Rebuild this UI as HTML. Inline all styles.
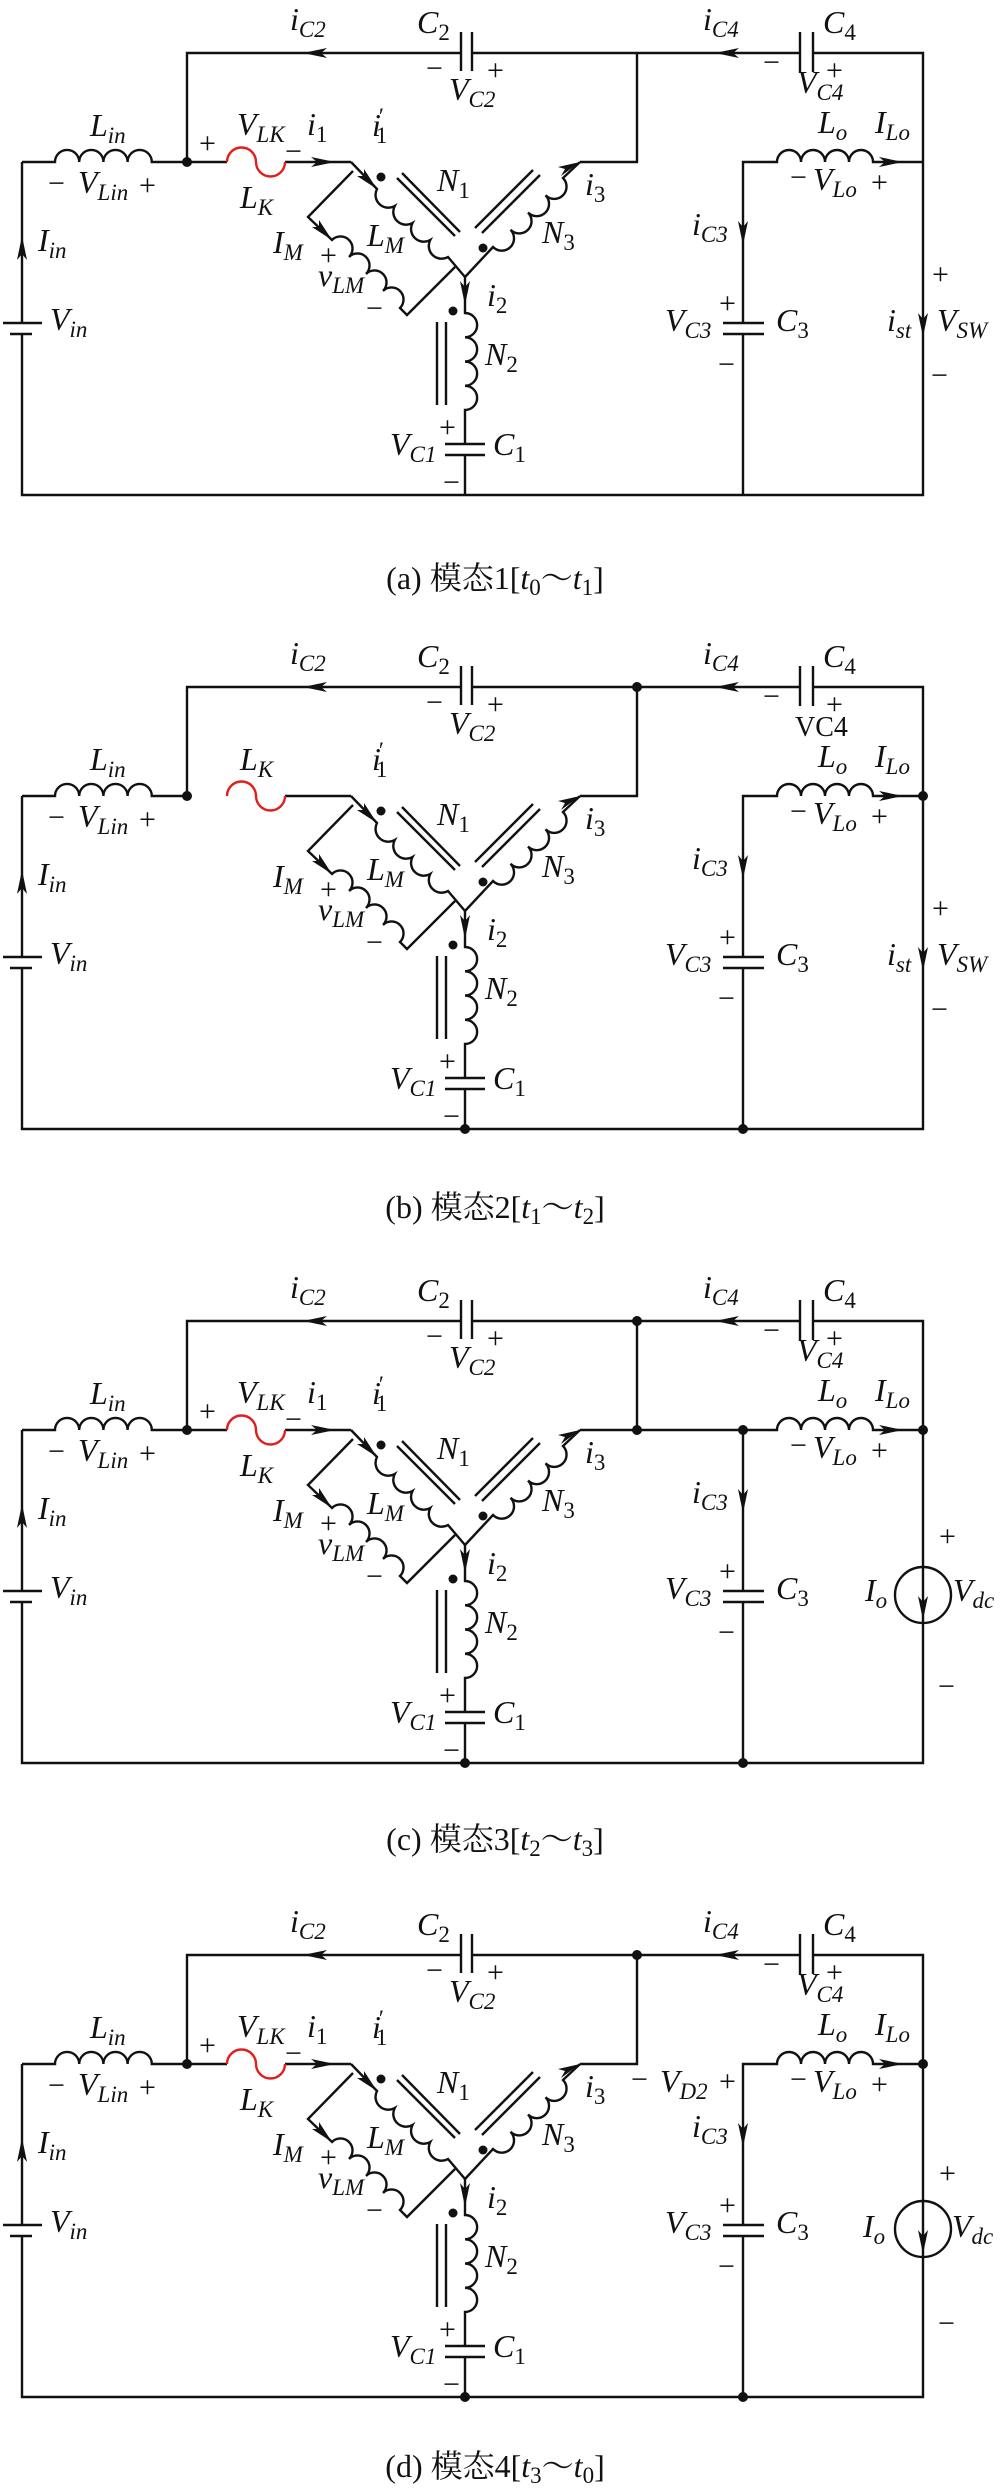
<!DOCTYPE html>
<html><head><meta charset="utf-8"><style>
html,body{margin:0;padding:0;background:#fff}
svg{display:block;font-family:"Liberation Serif","Noto Serif CJK SC",serif}
.w{fill:none;stroke:#111;stroke-width:2.4}
.r{fill:none;stroke:#e0201c;stroke-width:2.4}
.a{fill:#111;stroke:none}
text{font-family:"Liberation Serif","Noto Serif CJK SC",serif;fill:#111}
.l{font-style:italic;font-size:32px}
.s{font-size:23px}
.u{font-style:normal}
.p{font-size:30px;font-style:normal}
.cap{font-size:32px}
</style></head><body>
<svg width="1000" height="2491" viewBox="0 0 1000 2491" xmlns="http://www.w3.org/2000/svg" font-family="Liberation Serif, serif">

<g id="pa">
<path class="w" d="M22 162 H55 a12.1 12.1 0 0 1 24.2 0 a12.1 12.1 0 0 1 24.2 0 a12.1 12.1 0 0 1 24.2 0 a12.1 12.1 0 0 1 24.2 0 H187"/>
<path class="w" d="M22 162 V323 M3 323 H42 M10 334 H32 M22 334 V495 H923 V53 H813 M800 53 H472 M461 53 H187 V162"/>
<path class="w" d="M800 32 V72 M813 32 V72 M461 32 V71 M472 32 V71"/>
<path class="w" d="M637 53 V162 H580"/>
<path class="w" d="M580 162 L563 178 a11.76 11.76 0 0 1 -17.5 17.25 a11.76 11.76 0 0 1 -17.5 17.25 a11.76 11.76 0 0 1 -17.5 17.25 a11.76 11.76 0 0 1 -17.5 17.25 L465 277"/>
<path class="w" d="M351 162 L377 189 a12.8 12.8 0 0 0 17.75 17 a12.8 12.8 0 0 0 17.75 17 a12.8 12.8 0 0 0 17.75 17 a12.8 12.8 0 0 0 17.75 17 L465 277"/>
<path class="w" d="M353 171 L308 217 L332 240 a12.02 12.02 0 0 1 17 17 a12.02 12.02 0 0 1 17 17 a12.02 12.02 0 0 1 17 17 a12.02 12.02 0 0 1 17 17 L407 315 L455 267"/>
<path class="w" d="M465 277 V313 a12.1 12.1 0 0 1 0 24.25 a12.1 12.1 0 0 1 0 24.25 a12.1 12.1 0 0 1 0 24.25 a12.1 12.1 0 0 1 0 24.25 V444 M445 444 H485 M445 455 H485 M465 455 V495"/>
<path class="w" d="M402 173 L460 232 M397 178 L455 236 M533 170 L475 228 M540 175 L482 233 M437 322 V405 M446 322 V405"/>
<path class="w" d="M743 495 V334 M723 334 H764 M723 323 H764 M743 323 V162 H777 a12 12 0 0 1 24 0 a12 12 0 0 1 24 0 a12 12 0 0 1 24 0 a12 12 0 0 1 24 0 H923"/>
<circle class="a" cx="381" cy="177" r="4.5"/><circle class="a" cx="483" cy="248" r="4.5"/><circle class="a" cx="453" cy="311" r="4.5"/>
<polygon class="a" points="303,53 327,48 321,53 327,58"/>
<polygon class="a" points="715,53 739,48 733,53 739,58"/>
<polygon class="a" points="22,236 17,260 22,254 27,260"/>
<polygon class="a" points="377,189 357,176 364,176 364,169"/>
<polygon class="a" points="332,240 312,227 319,227 319,220"/>
<polygon class="a" points="580,162 561,176 565,169 558,167"/>
<polygon class="a" points="465,305 460,281 465,287 470,281"/>
<polygon class="a" points="743,245 738,221 743,227 748,221"/>
<polygon class="a" points="903,162 879,157 885,162 879,167"/>
<text class="l" x="290" y="30">i<tspan class="s" dy="7">C2</tspan></text>
<text class="l" x="417" y="33">C<tspan class="s u" dy="7">2</tspan></text>
<text class="p" x="426" y="78">−</text><text class="p" x="487" y="80">+</text>
<text class="l" x="449" y="100">V<tspan class="s" dy="7">C2</tspan></text>
<text class="l" x="703" y="30">i<tspan class="s" dy="7">C4</tspan></text>
<text class="l" x="823" y="33">C<tspan class="s u" dy="7">4</tspan></text>
<text class="p" x="763" y="72">−</text><text class="p" x="826" y="80">+</text>
<text class="l" x="90" y="136">L<tspan class="s" dy="7">in</tspan></text>
<text class="p" x="48" y="193">−</text><text class="l" x="78" y="193">V<tspan class="s" dy="7">Lin</tspan></text><text class="p" x="139" y="195">+</text>
<text class="l" x="38" y="251">I<tspan class="s" dy="7">in</tspan></text>
<text class="l" x="50" y="330">V<tspan class="s" dy="7">in</tspan></text>
<text class="l" x="372" y="136">i<tspan class="s u" dx="-2" dy="-12">′</tspan><tspan class="s u" dx="-8" dy="19">1</tspan></text>
<text class="l" x="437" y="191">N<tspan class="s u" dy="7">1</tspan></text>
<text class="l" x="585" y="195">i<tspan class="s u" dy="7">3</tspan></text>
<text class="l" x="542" y="243">N<tspan class="s u" dy="7">3</tspan></text>
<text class="l" x="273" y="253">I<tspan class="s" dy="7">M</tspan></text><text class="p" x="320" y="265">+</text>
<text class="l" x="367" y="246">L<tspan class="s" dy="7">M</tspan></text>
<text class="l" x="318" y="286">v<tspan class="s" dy="7">LM</tspan></text><text class="p" x="366" y="318">−</text>
<text class="l" x="487" y="306">i<tspan class="s u" dy="7">2</tspan></text>
<text class="l" x="485" y="365">N<tspan class="s u" dy="7">2</tspan></text>
<text class="p" x="439" y="437">+</text>
<text class="l" x="390" y="455">V<tspan class="s" dy="7">C1</tspan></text>
<text class="l" x="493" y="455">C<tspan class="s u" dy="7">1</tspan></text>
<text class="p" x="443" y="492">−</text>
<text class="l" x="818" y="133">L<tspan class="s" dy="7">o</tspan></text>
<text class="l" x="875" y="133">I<tspan class="s" dy="7">Lo</tspan></text>
<text class="p" x="790" y="187">−</text><text class="l" x="813" y="190">V<tspan class="s" dy="7">Lo</tspan></text><text class="p" x="871" y="192">+</text>
<text class="l" x="692" y="235">i<tspan class="s" dy="7">C3</tspan></text>
<text class="p" x="719" y="313">+</text>
<text class="l" x="665" y="331">V<tspan class="s" dy="7">C3</tspan></text>
<text class="l" x="776" y="331">C<tspan class="s u" dy="7">3</tspan></text>
<text class="p" x="718" y="374">−</text>
</g>

<g>
<text class="l" x="797" y="93">V<tspan class="s" dy="7">C4</tspan></text>
<path class="w" d="M187 162 H227 M285 162 H351"/>
<path class="r" d="M227 162 a14.5 14.5 0 0 1 29 0 a14.5 14.5 0 0 0 29 0"/>
<polygon class="a" points="335,162 311,157 317,162 311,167"/>
<circle class="a" cx="187" cy="162" r="5"/>
<text class="p" x="199" y="153">+</text>
<text class="l" x="237" y="135">V<tspan class="s" dy="7">LK</tspan></text>
<text class="p" x="285" y="161">−</text>
<text class="l" x="307" y="135">i<tspan class="s u" dy="7">1</tspan></text>
<text class="l" x="240" y="208">L<tspan class="s" dy="7">K</tspan></text>
<polygon class="a" points="923,337 918,313 923,319 928,313"/>
<text class="p" x="932" y="284">+</text><text class="p" x="931" y="385">−</text>
<text class="l" x="887" y="331">i<tspan class="s" dy="7">st</tspan></text>
<text class="l" x="937" y="331">V<tspan class="s" dy="7">SW</tspan></text>
<text class="cap" x="495" y="589" text-anchor="middle">(a) 模态1[<tspan font-style="italic">t</tspan><tspan class="s" dy="6">0</tspan><tspan dy="-6">～</tspan><tspan font-style="italic">t</tspan><tspan class="s" dy="6">1</tspan><tspan dy="-6">]</tspan></text>
</g>

<g transform="translate(0,634)">
<path class="w" d="M22 162 H55 a12.1 12.1 0 0 1 24.2 0 a12.1 12.1 0 0 1 24.2 0 a12.1 12.1 0 0 1 24.2 0 a12.1 12.1 0 0 1 24.2 0 H187"/>
<path class="w" d="M22 162 V323 M3 323 H42 M10 334 H32 M22 334 V495 H923 V53 H813 M800 53 H472 M461 53 H187 V162"/>
<path class="w" d="M800 32 V72 M813 32 V72 M461 32 V71 M472 32 V71"/>
<path class="w" d="M637 53 V162 H580"/>
<path class="w" d="M580 162 L563 178 a11.76 11.76 0 0 1 -17.5 17.25 a11.76 11.76 0 0 1 -17.5 17.25 a11.76 11.76 0 0 1 -17.5 17.25 a11.76 11.76 0 0 1 -17.5 17.25 L465 277"/>
<path class="w" d="M351 162 L377 189 a12.8 12.8 0 0 0 17.75 17 a12.8 12.8 0 0 0 17.75 17 a12.8 12.8 0 0 0 17.75 17 a12.8 12.8 0 0 0 17.75 17 L465 277"/>
<path class="w" d="M353 171 L308 217 L332 240 a12.02 12.02 0 0 1 17 17 a12.02 12.02 0 0 1 17 17 a12.02 12.02 0 0 1 17 17 a12.02 12.02 0 0 1 17 17 L407 315 L455 267"/>
<path class="w" d="M465 277 V313 a12.1 12.1 0 0 1 0 24.25 a12.1 12.1 0 0 1 0 24.25 a12.1 12.1 0 0 1 0 24.25 a12.1 12.1 0 0 1 0 24.25 V444 M445 444 H485 M445 455 H485 M465 455 V495"/>
<path class="w" d="M402 173 L460 232 M397 178 L455 236 M533 170 L475 228 M540 175 L482 233 M437 322 V405 M446 322 V405"/>
<path class="w" d="M743 495 V334 M723 334 H764 M723 323 H764 M743 323 V162 H777 a12 12 0 0 1 24 0 a12 12 0 0 1 24 0 a12 12 0 0 1 24 0 a12 12 0 0 1 24 0 H923"/>
<circle class="a" cx="381" cy="177" r="4.5"/><circle class="a" cx="483" cy="248" r="4.5"/><circle class="a" cx="453" cy="311" r="4.5"/>
<polygon class="a" points="303,53 327,48 321,53 327,58"/>
<polygon class="a" points="715,53 739,48 733,53 739,58"/>
<polygon class="a" points="22,236 17,260 22,254 27,260"/>
<polygon class="a" points="377,189 357,176 364,176 364,169"/>
<polygon class="a" points="332,240 312,227 319,227 319,220"/>
<polygon class="a" points="580,162 561,176 565,169 558,167"/>
<polygon class="a" points="465,305 460,281 465,287 470,281"/>
<polygon class="a" points="743,245 738,221 743,227 748,221"/>
<polygon class="a" points="903,162 879,157 885,162 879,167"/>
<text class="l" x="290" y="30">i<tspan class="s" dy="7">C2</tspan></text>
<text class="l" x="417" y="33">C<tspan class="s u" dy="7">2</tspan></text>
<text class="p" x="426" y="78">−</text><text class="p" x="487" y="80">+</text>
<text class="l" x="449" y="100">V<tspan class="s" dy="7">C2</tspan></text>
<text class="l" x="703" y="30">i<tspan class="s" dy="7">C4</tspan></text>
<text class="l" x="823" y="33">C<tspan class="s u" dy="7">4</tspan></text>
<text class="p" x="763" y="72">−</text><text class="p" x="826" y="80">+</text>
<text class="l" x="90" y="136">L<tspan class="s" dy="7">in</tspan></text>
<text class="p" x="48" y="193">−</text><text class="l" x="78" y="193">V<tspan class="s" dy="7">Lin</tspan></text><text class="p" x="139" y="195">+</text>
<text class="l" x="38" y="251">I<tspan class="s" dy="7">in</tspan></text>
<text class="l" x="50" y="330">V<tspan class="s" dy="7">in</tspan></text>
<text class="l" x="372" y="136">i<tspan class="s u" dx="-2" dy="-12">′</tspan><tspan class="s u" dx="-8" dy="19">1</tspan></text>
<text class="l" x="437" y="191">N<tspan class="s u" dy="7">1</tspan></text>
<text class="l" x="585" y="195">i<tspan class="s u" dy="7">3</tspan></text>
<text class="l" x="542" y="243">N<tspan class="s u" dy="7">3</tspan></text>
<text class="l" x="273" y="253">I<tspan class="s" dy="7">M</tspan></text><text class="p" x="320" y="265">+</text>
<text class="l" x="367" y="246">L<tspan class="s" dy="7">M</tspan></text>
<text class="l" x="318" y="286">v<tspan class="s" dy="7">LM</tspan></text><text class="p" x="366" y="318">−</text>
<text class="l" x="487" y="306">i<tspan class="s u" dy="7">2</tspan></text>
<text class="l" x="485" y="365">N<tspan class="s u" dy="7">2</tspan></text>
<text class="p" x="439" y="437">+</text>
<text class="l" x="390" y="455">V<tspan class="s" dy="7">C1</tspan></text>
<text class="l" x="493" y="455">C<tspan class="s u" dy="7">1</tspan></text>
<text class="p" x="443" y="492">−</text>
<text class="l" x="818" y="133">L<tspan class="s" dy="7">o</tspan></text>
<text class="l" x="875" y="133">I<tspan class="s" dy="7">Lo</tspan></text>
<text class="p" x="790" y="187">−</text><text class="l" x="813" y="190">V<tspan class="s" dy="7">Lo</tspan></text><text class="p" x="871" y="192">+</text>
<text class="l" x="692" y="235">i<tspan class="s" dy="7">C3</tspan></text>
<text class="p" x="719" y="313">+</text>
<text class="l" x="665" y="331">V<tspan class="s" dy="7">C3</tspan></text>
<text class="l" x="776" y="331">C<tspan class="s u" dy="7">3</tspan></text>
<text class="p" x="718" y="374">−</text>
<text x="795" y="102" style="font-size:28px">VC4</text>
<path class="w" d="M285 162 H351"/>
<path class="r" d="M227 162 a14.5 14.5 0 0 1 29 0 a14.5 14.5 0 0 0 29 0"/>
<circle class="a" cx="187" cy="162" r="5"/><circle class="a" cx="637" cy="53" r="5"/><circle class="a" cx="923" cy="162" r="5"/>
<circle class="a" cx="465" cy="495" r="5"/><circle class="a" cx="743" cy="495" r="5"/>
<text class="l" x="240" y="136">L<tspan class="s" dy="7">K</tspan></text>
<polygon class="a" points="923,337 918,313 923,319 928,313"/>
<text class="p" x="932" y="284">+</text><text class="p" x="931" y="385">−</text>
<text class="l" x="887" y="331">i<tspan class="s" dy="7">st</tspan></text>
<text class="l" x="937" y="331">V<tspan class="s" dy="7">SW</tspan></text>
<text class="cap" x="495" y="584" text-anchor="middle">(b) 模态2[<tspan font-style="italic">t</tspan><tspan class="s" dy="6">1</tspan><tspan dy="-6">～</tspan><tspan font-style="italic">t</tspan><tspan class="s" dy="6">2</tspan><tspan dy="-6">]</tspan></text>
</g>

<g transform="translate(0,1268)">
<path class="w" d="M22 162 H55 a12.1 12.1 0 0 1 24.2 0 a12.1 12.1 0 0 1 24.2 0 a12.1 12.1 0 0 1 24.2 0 a12.1 12.1 0 0 1 24.2 0 H187"/>
<path class="w" d="M22 162 V323 M3 323 H42 M10 334 H32 M22 334 V495 H923 V53 H813 M800 53 H472 M461 53 H187 V162"/>
<path class="w" d="M800 32 V72 M813 32 V72 M461 32 V71 M472 32 V71"/>
<path class="w" d="M637 53 V162 H580 M637 162 H743"/>
<path class="w" d="M580 162 L563 178 a11.76 11.76 0 0 1 -17.5 17.25 a11.76 11.76 0 0 1 -17.5 17.25 a11.76 11.76 0 0 1 -17.5 17.25 a11.76 11.76 0 0 1 -17.5 17.25 L465 277"/>
<path class="w" d="M351 162 L377 189 a12.8 12.8 0 0 0 17.75 17 a12.8 12.8 0 0 0 17.75 17 a12.8 12.8 0 0 0 17.75 17 a12.8 12.8 0 0 0 17.75 17 L465 277"/>
<path class="w" d="M353 171 L308 217 L332 240 a12.02 12.02 0 0 1 17 17 a12.02 12.02 0 0 1 17 17 a12.02 12.02 0 0 1 17 17 a12.02 12.02 0 0 1 17 17 L407 315 L455 267"/>
<path class="w" d="M465 277 V313 a12.1 12.1 0 0 1 0 24.25 a12.1 12.1 0 0 1 0 24.25 a12.1 12.1 0 0 1 0 24.25 a12.1 12.1 0 0 1 0 24.25 V444 M445 444 H485 M445 455 H485 M465 455 V495"/>
<path class="w" d="M402 173 L460 232 M397 178 L455 236 M533 170 L475 228 M540 175 L482 233 M437 322 V405 M446 322 V405"/>
<path class="w" d="M743 495 V334 M723 334 H764 M723 323 H764 M743 323 V162 H777 a12 12 0 0 1 24 0 a12 12 0 0 1 24 0 a12 12 0 0 1 24 0 a12 12 0 0 1 24 0 H923"/>
<circle class="a" cx="381" cy="177" r="4.5"/><circle class="a" cx="483" cy="248" r="4.5"/><circle class="a" cx="453" cy="311" r="4.5"/>
<polygon class="a" points="303,53 327,48 321,53 327,58"/>
<polygon class="a" points="715,53 739,48 733,53 739,58"/>
<polygon class="a" points="22,236 17,260 22,254 27,260"/>
<polygon class="a" points="377,189 357,176 364,176 364,169"/>
<polygon class="a" points="332,240 312,227 319,227 319,220"/>
<polygon class="a" points="580,162 561,176 565,169 558,167"/>
<polygon class="a" points="465,305 460,281 465,287 470,281"/>
<polygon class="a" points="743,245 738,221 743,227 748,221"/>
<polygon class="a" points="903,162 879,157 885,162 879,167"/>
<text class="l" x="290" y="30">i<tspan class="s" dy="7">C2</tspan></text>
<text class="l" x="417" y="33">C<tspan class="s u" dy="7">2</tspan></text>
<text class="p" x="426" y="78">−</text><text class="p" x="487" y="80">+</text>
<text class="l" x="449" y="100">V<tspan class="s" dy="7">C2</tspan></text>
<text class="l" x="703" y="30">i<tspan class="s" dy="7">C4</tspan></text>
<text class="l" x="823" y="33">C<tspan class="s u" dy="7">4</tspan></text>
<text class="p" x="763" y="72">−</text><text class="p" x="826" y="80">+</text>
<text class="l" x="90" y="136">L<tspan class="s" dy="7">in</tspan></text>
<text class="p" x="48" y="193">−</text><text class="l" x="78" y="193">V<tspan class="s" dy="7">Lin</tspan></text><text class="p" x="139" y="195">+</text>
<text class="l" x="38" y="251">I<tspan class="s" dy="7">in</tspan></text>
<text class="l" x="50" y="330">V<tspan class="s" dy="7">in</tspan></text>
<text class="l" x="372" y="136">i<tspan class="s u" dx="-2" dy="-12">′</tspan><tspan class="s u" dx="-8" dy="19">1</tspan></text>
<text class="l" x="437" y="191">N<tspan class="s u" dy="7">1</tspan></text>
<text class="l" x="585" y="195">i<tspan class="s u" dy="7">3</tspan></text>
<text class="l" x="542" y="243">N<tspan class="s u" dy="7">3</tspan></text>
<text class="l" x="273" y="253">I<tspan class="s" dy="7">M</tspan></text><text class="p" x="320" y="265">+</text>
<text class="l" x="367" y="246">L<tspan class="s" dy="7">M</tspan></text>
<text class="l" x="318" y="286">v<tspan class="s" dy="7">LM</tspan></text><text class="p" x="366" y="318">−</text>
<text class="l" x="487" y="306">i<tspan class="s u" dy="7">2</tspan></text>
<text class="l" x="485" y="365">N<tspan class="s u" dy="7">2</tspan></text>
<text class="p" x="439" y="437">+</text>
<text class="l" x="390" y="455">V<tspan class="s" dy="7">C1</tspan></text>
<text class="l" x="493" y="455">C<tspan class="s u" dy="7">1</tspan></text>
<text class="p" x="443" y="492">−</text>
<text class="l" x="818" y="133">L<tspan class="s" dy="7">o</tspan></text>
<text class="l" x="875" y="133">I<tspan class="s" dy="7">Lo</tspan></text>
<text class="p" x="790" y="187">−</text><text class="l" x="813" y="190">V<tspan class="s" dy="7">Lo</tspan></text><text class="p" x="871" y="192">+</text>
<text class="l" x="692" y="235">i<tspan class="s" dy="7">C3</tspan></text>
<text class="p" x="719" y="313">+</text>
<text class="l" x="665" y="331">V<tspan class="s" dy="7">C3</tspan></text>
<text class="l" x="776" y="331">C<tspan class="s u" dy="7">3</tspan></text>
<text class="p" x="718" y="374">−</text>
<text class="l" x="797" y="93">V<tspan class="s" dy="7">C4</tspan></text>
<path class="w" d="M187 162 H227 M285 162 H351"/>
<path class="r" d="M227 162 a14.5 14.5 0 0 1 29 0 a14.5 14.5 0 0 0 29 0"/>
<polygon class="a" points="335,162 311,157 317,162 311,167"/>
<circle class="a" cx="187" cy="162" r="5"/><circle class="a" cx="637" cy="53" r="5"/><circle class="a" cx="637" cy="162" r="5"/>
<circle class="a" cx="743" cy="162" r="5"/><circle class="a" cx="923" cy="162" r="5"/>
<circle class="a" cx="465" cy="495" r="5"/><circle class="a" cx="743" cy="495" r="5"/>
<text class="p" x="199" y="153">+</text>
<text class="l" x="237" y="135">V<tspan class="s" dy="7">LK</tspan></text>
<text class="p" x="285" y="161">−</text>
<text class="l" x="307" y="135">i<tspan class="s u" dy="7">1</tspan></text>
<text class="l" x="240" y="208">L<tspan class="s" dy="7">K</tspan></text>
<circle class="w" cx="923" cy="327" r="28"/>
<polygon class="a" points="923,352 918,328 923,334 928,328"/>
<text class="p" x="939" y="278">+</text><text class="p" x="938" y="428">−</text>
<text class="l" x="865" y="333">I<tspan class="s" dy="7">o</tspan></text>
<text class="l" x="953" y="333">V<tspan class="s" dy="7">dc</tspan></text>
<text class="cap" x="495" y="582" text-anchor="middle">(c) 模态3[<tspan font-style="italic">t</tspan><tspan class="s" dy="6">2</tspan><tspan dy="-6">～</tspan><tspan font-style="italic">t</tspan><tspan class="s" dy="6">3</tspan><tspan dy="-6">]</tspan></text>
</g>

<g transform="translate(0,1902)">
<path class="w" d="M22 162 H55 a12.1 12.1 0 0 1 24.2 0 a12.1 12.1 0 0 1 24.2 0 a12.1 12.1 0 0 1 24.2 0 a12.1 12.1 0 0 1 24.2 0 H187"/>
<path class="w" d="M22 162 V323 M3 323 H42 M10 334 H32 M22 334 V495 H923 V53 H813 M800 53 H472 M461 53 H187 V162"/>
<path class="w" d="M800 32 V72 M813 32 V72 M461 32 V71 M472 32 V71"/>
<path class="w" d="M637 53 V162 H580"/>
<path class="w" d="M580 162 L563 178 a11.76 11.76 0 0 1 -17.5 17.25 a11.76 11.76 0 0 1 -17.5 17.25 a11.76 11.76 0 0 1 -17.5 17.25 a11.76 11.76 0 0 1 -17.5 17.25 L465 277"/>
<path class="w" d="M351 162 L377 189 a12.8 12.8 0 0 0 17.75 17 a12.8 12.8 0 0 0 17.75 17 a12.8 12.8 0 0 0 17.75 17 a12.8 12.8 0 0 0 17.75 17 L465 277"/>
<path class="w" d="M353 171 L308 217 L332 240 a12.02 12.02 0 0 1 17 17 a12.02 12.02 0 0 1 17 17 a12.02 12.02 0 0 1 17 17 a12.02 12.02 0 0 1 17 17 L407 315 L455 267"/>
<path class="w" d="M465 277 V313 a12.1 12.1 0 0 1 0 24.25 a12.1 12.1 0 0 1 0 24.25 a12.1 12.1 0 0 1 0 24.25 a12.1 12.1 0 0 1 0 24.25 V444 M445 444 H485 M445 455 H485 M465 455 V495"/>
<path class="w" d="M402 173 L460 232 M397 178 L455 236 M533 170 L475 228 M540 175 L482 233 M437 322 V405 M446 322 V405"/>
<path class="w" d="M743 495 V334 M723 334 H764 M723 323 H764 M743 323 V162 H777 a12 12 0 0 1 24 0 a12 12 0 0 1 24 0 a12 12 0 0 1 24 0 a12 12 0 0 1 24 0 H923"/>
<circle class="a" cx="381" cy="177" r="4.5"/><circle class="a" cx="483" cy="248" r="4.5"/><circle class="a" cx="453" cy="311" r="4.5"/>
<polygon class="a" points="303,53 327,48 321,53 327,58"/>
<polygon class="a" points="715,53 739,48 733,53 739,58"/>
<polygon class="a" points="22,236 17,260 22,254 27,260"/>
<polygon class="a" points="377,189 357,176 364,176 364,169"/>
<polygon class="a" points="332,240 312,227 319,227 319,220"/>
<polygon class="a" points="580,162 561,176 565,169 558,167"/>
<polygon class="a" points="465,305 460,281 465,287 470,281"/>
<polygon class="a" points="743,245 738,221 743,227 748,221"/>
<polygon class="a" points="903,162 879,157 885,162 879,167"/>
<text class="l" x="290" y="30">i<tspan class="s" dy="7">C2</tspan></text>
<text class="l" x="417" y="33">C<tspan class="s u" dy="7">2</tspan></text>
<text class="p" x="426" y="78">−</text><text class="p" x="487" y="80">+</text>
<text class="l" x="449" y="100">V<tspan class="s" dy="7">C2</tspan></text>
<text class="l" x="703" y="30">i<tspan class="s" dy="7">C4</tspan></text>
<text class="l" x="823" y="33">C<tspan class="s u" dy="7">4</tspan></text>
<text class="p" x="763" y="72">−</text><text class="p" x="826" y="80">+</text>
<text class="l" x="90" y="136">L<tspan class="s" dy="7">in</tspan></text>
<text class="p" x="48" y="193">−</text><text class="l" x="78" y="193">V<tspan class="s" dy="7">Lin</tspan></text><text class="p" x="139" y="195">+</text>
<text class="l" x="38" y="251">I<tspan class="s" dy="7">in</tspan></text>
<text class="l" x="50" y="330">V<tspan class="s" dy="7">in</tspan></text>
<text class="l" x="372" y="136">i<tspan class="s u" dx="-2" dy="-12">′</tspan><tspan class="s u" dx="-8" dy="19">1</tspan></text>
<text class="l" x="437" y="191">N<tspan class="s u" dy="7">1</tspan></text>
<text class="l" x="585" y="195">i<tspan class="s u" dy="7">3</tspan></text>
<text class="l" x="542" y="243">N<tspan class="s u" dy="7">3</tspan></text>
<text class="l" x="273" y="253">I<tspan class="s" dy="7">M</tspan></text><text class="p" x="320" y="265">+</text>
<text class="l" x="367" y="246">L<tspan class="s" dy="7">M</tspan></text>
<text class="l" x="318" y="286">v<tspan class="s" dy="7">LM</tspan></text><text class="p" x="366" y="318">−</text>
<text class="l" x="487" y="306">i<tspan class="s u" dy="7">2</tspan></text>
<text class="l" x="485" y="365">N<tspan class="s u" dy="7">2</tspan></text>
<text class="p" x="439" y="437">+</text>
<text class="l" x="390" y="455">V<tspan class="s" dy="7">C1</tspan></text>
<text class="l" x="493" y="455">C<tspan class="s u" dy="7">1</tspan></text>
<text class="p" x="443" y="492">−</text>
<text class="l" x="818" y="133">L<tspan class="s" dy="7">o</tspan></text>
<text class="l" x="875" y="133">I<tspan class="s" dy="7">Lo</tspan></text>
<text class="p" x="790" y="187">−</text><text class="l" x="813" y="190">V<tspan class="s" dy="7">Lo</tspan></text><text class="p" x="871" y="192">+</text>
<text class="l" x="692" y="235">i<tspan class="s" dy="7">C3</tspan></text>
<text class="p" x="719" y="313">+</text>
<text class="l" x="665" y="331">V<tspan class="s" dy="7">C3</tspan></text>
<text class="l" x="776" y="331">C<tspan class="s u" dy="7">3</tspan></text>
<text class="p" x="718" y="374">−</text>
<text class="l" x="797" y="93">V<tspan class="s" dy="7">C4</tspan></text>
<path class="w" d="M187 162 H227 M285 162 H351"/>
<path class="r" d="M227 162 a14.5 14.5 0 0 1 29 0 a14.5 14.5 0 0 0 29 0"/>
<polygon class="a" points="335,162 311,157 317,162 311,167"/>
<circle class="a" cx="187" cy="162" r="5"/><circle class="a" cx="637" cy="53" r="5"/><circle class="a" cx="923" cy="162" r="5"/>
<circle class="a" cx="465" cy="495" r="5"/><circle class="a" cx="743" cy="495" r="5"/>
<text class="p" x="199" y="153">+</text>
<text class="l" x="237" y="135">V<tspan class="s" dy="7">LK</tspan></text>
<text class="p" x="285" y="161">−</text>
<text class="l" x="307" y="135">i<tspan class="s u" dy="7">1</tspan></text>
<text class="l" x="240" y="208">L<tspan class="s" dy="7">K</tspan></text>
<text class="p" x="631" y="187">−</text>
<text class="l" x="660" y="190">V<tspan class="s" dy="7">D2</tspan></text>
<text class="p" x="719" y="189">+</text>
<circle class="w" cx="923" cy="327" r="28"/>
<polygon class="a" points="923,352 918,328 923,334 928,328"/>
<text class="p" x="939" y="281">+</text><text class="p" x="938" y="431">−</text>
<text class="l" x="863" y="335">I<tspan class="s" dy="7">o</tspan></text>
<text class="l" x="952" y="335">V<tspan class="s" dy="7">dc</tspan></text>
<text class="cap" x="495" y="575" text-anchor="middle">(d) 模态4[<tspan font-style="italic">t</tspan><tspan class="s" dy="6">3</tspan><tspan dy="-6">～</tspan><tspan font-style="italic">t</tspan><tspan class="s" dy="6">0</tspan><tspan dy="-6">]</tspan></text>
</g>
</svg>
</body></html>
